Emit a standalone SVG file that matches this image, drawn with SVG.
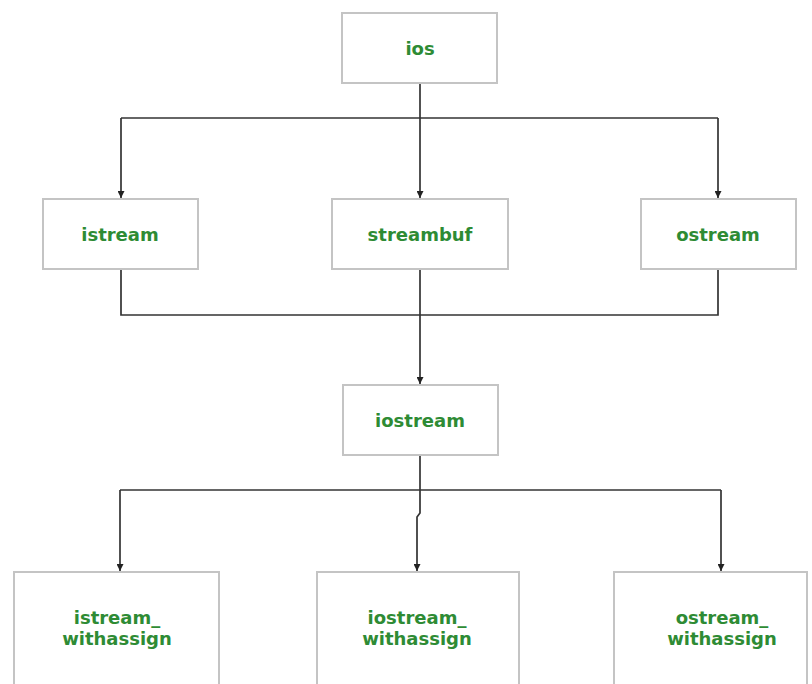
<svg xmlns="http://www.w3.org/2000/svg" width="812" height="684" viewBox="0 0 812 684">
<defs>
<style>
.box{fill:#fff;stroke:#c4c4c4;stroke-width:2}
.lbl{font-family:"DejaVu Sans",sans-serif;font-weight:bold;font-size:18px;fill:#2e8b34;text-anchor:middle}
.ln{fill:none;stroke:#333;stroke-width:1.7}
</style>
<marker id="ah" viewBox="0 0 10 10" refX="10" refY="5" markerWidth="7" markerHeight="7" markerUnits="userSpaceOnUse" orient="auto">
<path d="M0,0 L10,5 L0,10 z" fill="#222"/>
</marker>
</defs>
<rect width="812" height="684" fill="#fff"/>
<g id="connectors">
<path class="ln" d="M420,83 V118"/>
<path class="ln" d="M121,118 H718"/>
<path class="ln" d="M121,118 V198" marker-end="url(#ah)"/>
<path class="ln" d="M420,118 V198" marker-end="url(#ah)"/>
<path class="ln" d="M718,118 V198" marker-end="url(#ah)"/>
<path class="ln" d="M121,269 V315 H718 V269"/>
<path class="ln" d="M420,269 V384" marker-end="url(#ah)"/>
<path class="ln" d="M420,455 V490"/>
<path class="ln" d="M120,490 H721"/>
<path class="ln" d="M120,490 V571" marker-end="url(#ah)"/>
<path class="ln" d="M420,490 V513 L417,517 V571" marker-end="url(#ah)"/>
<path class="ln" d="M721,490 V571" marker-end="url(#ah)"/>
</g>
<g id="ios"><rect class="box" x="342" y="13" width="155" height="70"/><text class="lbl" x="420" y="55">ios</text></g>
<g id="istream"><rect class="box" x="43" y="199" width="155" height="70"/><text class="lbl" x="120" y="241">istream</text></g>
<g id="streambuf"><rect class="box" x="332" y="199" width="176" height="70"/><text class="lbl" x="420" y="241">streambuf</text></g>
<g id="ostream"><rect class="box" x="641" y="199" width="155" height="70"/><text class="lbl" x="718" y="241">ostream</text></g>
<g id="iostream"><rect class="box" x="343" y="385" width="155" height="70"/><text class="lbl" x="420" y="427">iostream</text></g>
<g id="istream_withassign"><rect class="box" x="14" y="572" width="205" height="130"/><text class="lbl" x="117" y="624">istream_</text><text class="lbl" x="117" y="645">withassign</text></g>
<g id="iostream_withassign"><rect class="box" x="317" y="572" width="202" height="130"/><text class="lbl" x="417" y="624">iostream_</text><text class="lbl" x="417" y="645">withassign</text></g>
<g id="ostream_withassign"><rect class="box" x="614" y="572" width="193" height="130"/><text class="lbl" x="722" y="624">ostream_</text><text class="lbl" x="722" y="645">withassign</text></g>
</svg>
